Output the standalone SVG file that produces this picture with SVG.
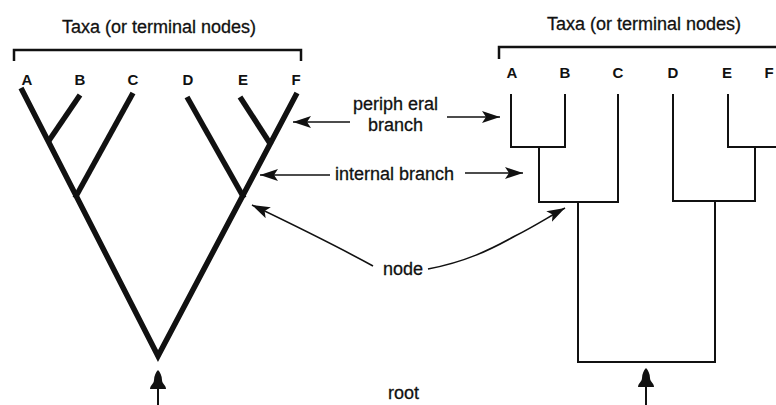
<svg xmlns="http://www.w3.org/2000/svg" width="776" height="405" viewBox="0 0 776 405">
<style>
  .txt { font-family: "Liberation Sans", Arial, sans-serif; font-size: 18px; fill: #111; stroke: #111; stroke-width: 0.3; }
  .lab { font-family: "Liberation Sans", Arial, sans-serif; font-size: 15px; font-weight: bold; fill: #111; text-anchor: middle; }
  .thick { fill: none; stroke: #111; stroke-width: 5.5; stroke-linecap: butt; stroke-linejoin: miter; stroke-miterlimit: 12; }
  .thin { fill: none; stroke: #111; stroke-width: 2; stroke-linecap: square; }
  .brk { fill: none; stroke: #111; stroke-width: 2.5; }
  .arr { fill: none; stroke: #111; stroke-width: 1.6; marker-end: url(#ah); }
  .rootarr { fill: none; stroke: #111; stroke-width: 2; }
</style>
<defs>
  <marker id="ah" markerUnits="userSpaceOnUse" markerWidth="20" markerHeight="14" refX="18" refY="6.5" orient="auto">
    <path d="M0,0.5 L18,6.5 L0,12.5 L4,6.5 Z" fill="#111"/>
  </marker>
  <path id="bell" d="M0,0 C2,2 4,6 4,10 C4,14 8,15 8,19 L-8,19 C-8,15 -4,14 -4,10 C-4,6 -2,2 0,0 Z" fill="#111"/>
</defs>

<g id="left-tree">
  <text class="txt" x="62" y="33">Taxa (or terminal nodes)</text>
  <path class="brk" d="M14,61 V50 H301 V61"/>
  <g id="L-labels">
    <text class="lab" x="27" y="85">A</text>
    <text class="lab" x="80" y="85">B</text>
    <text class="lab" x="133" y="85">C</text>
    <text class="lab" x="188" y="85">D</text>
    <text class="lab" x="243" y="85">E</text>
    <text class="lab" x="296" y="85">F</text>
  </g>
  <polyline class="thick" points="21,88 158,356 297,93"/>
  <line class="thick" x1="80" y1="95" x2="48" y2="142"/>
  <line class="thick" x1="133" y1="93" x2="75" y2="198"/>
  <line class="thick" x1="187" y1="97" x2="244" y2="198"/>
  <line class="thick" x1="240" y1="97" x2="271" y2="145"/>
</g>

<g id="right-tree">
  <text class="txt" x="547" y="30">Taxa (or terminal nodes)</text>
  <path class="brk" d="M499,59 V47 H780"/>
  <g id="R-labels">
    <text class="lab" x="512" y="78">A</text>
    <text class="lab" x="565" y="78">B</text>
    <text class="lab" x="618" y="78">C</text>
    <text class="lab" x="673" y="78">D</text>
    <text class="lab" x="727" y="78">E</text>
    <text class="lab" x="769" y="78">F</text>
  </g>
  <path class="thin" d="M511,95 V147 H565 V95"/>
  <path class="thin" d="M539,147 V202 H618 V95"/>
  <path class="thin" d="M673,95 V201 H755"/>
  <path class="thin" d="M728,95 V147 H780"/>
  <path class="thin" d="M755,147 V201"/>
  <path class="thin" d="M578,202 V362 H715 V201"/>
</g>

<g id="annotations">
  <text class="txt" x="353" y="110">periph eral</text>
  <text class="txt" x="368" y="131">branch</text>
  <text class="txt" x="335" y="180">internal branch</text>
  <text class="txt" x="383" y="275">node</text>
  <text class="txt" x="388" y="399">root</text>
</g>

<g id="connectors">
  <line class="arr" x1="350" y1="122" x2="293" y2="122"/>
  <line class="arr" x1="447" y1="117" x2="500" y2="117"/>
  <line class="arr" x1="330" y1="175" x2="260" y2="175"/>
  <line class="arr" x1="465" y1="173" x2="523" y2="173"/>
  <path class="arr" d="M373,266 C340,248 300,228 252,205"/>
  <path class="arr" d="M428,269 C465,262 490,250 515,236 C535,226 550,216 565,208"/>
  <line class="rootarr" x1="158" y1="388" x2="158" y2="405"/>
  <use href="#bell" x="158" y="370"/>
  <line class="rootarr" x1="646" y1="386" x2="646" y2="405"/>
  <use href="#bell" x="646" y="368"/>
</g>
</svg>
